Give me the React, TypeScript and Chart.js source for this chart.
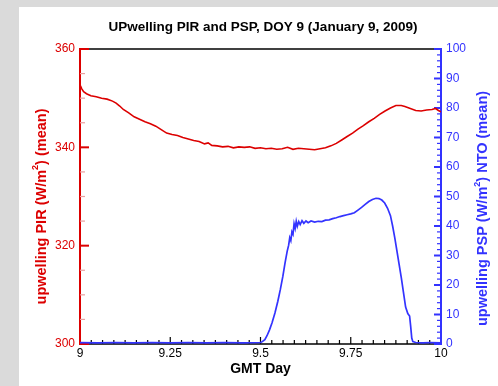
import React, { useEffect, useRef } from "react";
import { Chart, registerables } from "chart.js";

Chart.register(...registerables);

const TITLE = "UPwelling PIR and PSP, DOY 9 (January 9, 2009)";
const X_TITLE = "GMT Day";
const LEFT_TITLE = ["upwelling PIR (W/m", "2", ") (mean)"];
const RIGHT_TITLE = ["upwelling PSP (W/m", "2", ") NTO (mean)"];

const X_TICKS = [9, 9.25, 9.5, 9.75, 10];
const PIR_TICKS = [300, 320, 340, 360];
const PSP_TICKS = [0, 10, 20, 30, 40, 50, 60, 70, 80, 90, 100];

const pirDays = [
  9.0, 9.005, 9.01, 9.018, 9.03, 9.045, 9.06, 9.075, 9.09, 9.1, 9.11, 9.12, 9.135,
  9.15, 9.165, 9.18, 9.195, 9.21, 9.225, 9.24, 9.255, 9.27, 9.285, 9.3, 9.315, 9.33,
  9.345, 9.355, 9.365, 9.38, 9.395, 9.41, 9.425, 9.44, 9.455, 9.47, 9.485, 9.5,
  9.515, 9.53, 9.545, 9.56, 9.575, 9.59, 9.605, 9.62, 9.635, 9.65, 9.665, 9.68,
  9.695, 9.71, 9.725, 9.74, 9.755, 9.77, 9.785, 9.8, 9.815, 9.83, 9.845, 9.86,
  9.875, 9.89, 9.9, 9.915, 9.93, 9.945, 9.96, 9.975, 9.985, 9.993, 10.0,
];
const pirValues = [
  352.7, 351.9, 351.3, 350.9, 350.5, 350.3, 350.0, 349.8, 349.4, 349.0, 348.4, 347.7,
  347.0, 346.2, 345.7, 345.2, 344.8, 344.3, 343.6, 342.9, 342.6, 342.4, 342.0, 341.7,
  341.4, 341.2, 340.7, 340.9, 340.4, 340.3, 340.1, 340.2, 339.9, 340.1, 340.0, 340.1,
  339.8, 339.9, 339.7, 339.8, 339.6, 339.7, 340.0, 339.6, 339.8, 339.7, 339.6, 339.5,
  339.7, 339.9, 340.3, 340.8, 341.5, 342.2, 342.9, 343.7, 344.4, 345.2, 345.9, 346.7,
  347.4, 348.0, 348.5, 348.5, 348.3, 347.9, 347.5, 347.4, 347.6, 347.7, 347.9, 347.5,
  347.2,
];

const pspDays = [
  9.0, 9.05, 9.1, 9.15, 9.2, 9.25, 9.3, 9.35, 9.4, 9.45, 9.5, 9.505, 9.512, 9.518,
  9.525, 9.532, 9.54, 9.548, 9.555, 9.562, 9.568, 9.574, 9.578, 9.581, 9.584, 9.587,
  9.59, 9.593, 9.596, 9.599, 9.602, 9.606, 9.61, 9.615, 9.62, 9.626, 9.632, 9.64,
  9.65, 9.66, 9.67, 9.68, 9.69, 9.7, 9.71, 9.72, 9.73, 9.74, 9.75, 9.76, 9.77, 9.78,
  9.79, 9.8, 9.81, 9.82, 9.828, 9.836, 9.844, 9.852, 9.86, 9.866, 9.872, 9.878,
  9.884, 9.89, 9.896, 9.902, 9.908, 9.913, 9.916, 9.919, 9.922, 9.93, 9.95, 9.97, 10.0,
];
const pspValues = [
  0.5, 0.4, 0.5, 0.4, 0.5, 0.4, 0.5, 0.4, 0.5, 0.4, 0.5, 0.8, 1.5, 2.8, 4.8, 7.2,
  10.5, 14.5, 18.5, 23.0, 27.5, 31.5, 33.5, 36.0, 35.0, 38.0, 37.2, 40.8, 39.2, 41.6,
  39.9, 41.5, 40.5, 41.8, 40.9, 41.7, 41.1, 41.7, 41.3, 41.6, 41.5, 42.0, 42.1, 42.5,
  42.8, 43.2, 43.5, 43.8, 44.1, 44.5, 45.4, 46.3, 47.3, 48.3, 49.0, 49.4, 49.3, 48.8,
  47.8, 46.0, 43.5, 40.0, 36.0, 31.5, 27.0, 22.5, 17.5, 12.5, 10.3, 9.5, 6.0, 2.0, 0.8,
  0.5, 0.4, 0.5, 0.4,
];

const RED = "#dc0000";
const BLUE = "#3333ff";
const FONT = "'Liberation Sans', Arial, Helvetica, sans-serif";

function drawRotatedSup(ctx: CanvasRenderingContext2D, parts: string[], cx: number, cy: number, size: number, color: string) {
  ctx.save();
  ctx.translate(cx, cy);
  ctx.rotate(-Math.PI / 2);
  ctx.fillStyle = color;
  ctx.textBaseline = "middle";
  ctx.textAlign = "left";
  const main = `bold ${size}px ${FONT}`;
  const sup = `bold ${Math.round(size * 0.62)}px ${FONT}`;
  ctx.font = main;
  const w0 = ctx.measureText(parts[0]).width;
  const w2 = ctx.measureText(parts[2]).width;
  ctx.font = sup;
  const w1 = ctx.measureText(parts[1]).width;
  let x = -(w0 + w1 + w2) / 2;
  ctx.font = main;
  ctx.fillText(parts[0], x, 0);
  x += w0;
  ctx.font = sup;
  ctx.fillText(parts[1], x, -size * 0.38);
  x += w1;
  ctx.font = main;
  ctx.fillText(parts[2], x, 0);
  ctx.restore();
}

const framePlugin = {
  id: "frame",
  beforeDraw(chart: any) {
    const ctx = chart.ctx;
    ctx.save();
    ctx.fillStyle = "#dadada";
    ctx.fillRect(0, 0, chart.width, chart.height);
    ctx.fillStyle = "#ffffff";
    ctx.fillRect(19, 7, chart.width - 19, chart.height - 7);
    ctx.restore();
  },
  beforeDatasetsDraw(chart: any) {
    const ctx = chart.ctx;
    const { left, right, top, bottom } = chart.chartArea;
    const xs = chart.scales.x;
    const yl = chart.scales.y;
    const yr = chart.scales.y1;
    ctx.save();
    ctx.strokeStyle = "#000";
    ctx.lineWidth = 1.5;
    ctx.beginPath();
    ctx.moveTo(left, top);
    ctx.lineTo(right, top);
    ctx.stroke();
    ctx.beginPath();
    ctx.moveTo(left, bottom);
    ctx.lineTo(right, bottom);
    ctx.stroke();
    ctx.lineWidth = 1.2;
    for (let i = 0; i <= 32; i++) {
      const v = 9 + i / 32;
      const px = xs.getPixelForValue(v);
      const major = i % 8 === 0;
      ctx.beginPath();
      ctx.moveTo(px, bottom);
      ctx.lineTo(px, bottom - (major ? 7 : 4));
      ctx.stroke();
    }
    ctx.strokeStyle = RED;
    ctx.lineWidth = 2;
    ctx.beginPath();
    ctx.moveTo(left, top - 1);
    ctx.lineTo(left, bottom + 1);
    ctx.stroke();
    for (let v = 300; v <= 360; v += 5) {
      const py = yl.getPixelForValue(v);
      const major = v % 20 === 0;
      ctx.strokeStyle = major ? RED : "#eaa0a0";
      ctx.lineWidth = major ? 2 : 1.2;
      ctx.beginPath();
      ctx.moveTo(left, py);
      ctx.lineTo(left + (major ? 9 : 5), py);
      ctx.stroke();
    }
    ctx.strokeStyle = BLUE;
    ctx.lineWidth = 2;
    ctx.beginPath();
    ctx.moveTo(right, top - 1);
    ctx.lineTo(right, bottom + 1);
    ctx.stroke();
    for (let v = 0; v <= 100; v += 2) {
      const py = yr.getPixelForValue(v);
      const major = v % 10 === 0;
      ctx.lineWidth = major ? 2 : 1.2;
      ctx.beginPath();
      ctx.moveTo(right, py);
      ctx.lineTo(right - (major ? 7 : 4), py);
      ctx.stroke();
    }
    ctx.restore();
  },
  afterDraw(chart: any) {
    const ctx = chart.ctx;
    const { left, right, top, bottom } = chart.chartArea;
    ctx.save();
    ctx.fillStyle = "#000";
    ctx.textAlign = "center";
    ctx.textBaseline = "middle";
    ctx.font = `bold 13.5px ${FONT}`;
    ctx.fillText(TITLE, 263, 27);
    ctx.font = `bold 14px ${FONT}`;
    ctx.fillText(X_TITLE, (left + right) / 2, 369);
    ctx.restore();
    const mid = (top + bottom) / 2;
    drawRotatedSup(ctx, LEFT_TITLE, 41.5, mid + 10, 14.5, RED);
    drawRotatedSup(ctx, RIGHT_TITLE, 483, mid + 12, 14.5, BLUE);
  },
};

function fmt(v: number) {
  return String(Number(Number(v).toFixed(2)));
}

const gridOff = { display: false, drawTicks: false, tickLength: 0 };

export default function App() {
  const ref = useRef<HTMLCanvasElement | null>(null);
  useEffect(() => {
    if (!ref.current) return;
    const chart = new Chart(ref.current, {
      type: "line",
      data: {
        datasets: [
          {
            label: "PIR",
            data: pirDays.map((d, i) => ({ x: d, y: pirValues[i] })),
            borderColor: RED,
            borderWidth: 1.6,
            pointRadius: 0,
            tension: 0,
            yAxisID: "y",
          },
          {
            label: "PSP",
            data: pspDays.map((d, i) => ({ x: d, y: pspValues[i] })),
            borderColor: BLUE,
            borderWidth: 1.7,
            pointRadius: 0,
            tension: 0,
            yAxisID: "y1",
          },
        ],
      },
      options: {
        animation: false,
        responsive: false,
        layout: { padding: { top: 49, left: 0, right: 0, bottom: 0 } },
        plugins: { legend: { display: false }, title: { display: false }, tooltip: { enabled: false } },
        scales: {
          x: {
            type: "linear",
            min: 9,
            max: 10,
            afterBuildTicks: (s: any) => {
              s.ticks = X_TICKS.map((v) => ({ value: v }));
            },
            afterFit: (s: any) => {
              s.height = 42;
            },
            grid: gridOff,
            border: { display: false },
            ticks: {
              autoSkip: false,
              maxRotation: 0,
              padding: 2,
              color: "#000",
              font: { family: FONT, size: 12 },
              callback: (v: any) => fmt(v),
            },
          },
          y: {
            type: "linear",
            position: "left",
            min: 300,
            max: 360,
            afterBuildTicks: (s: any) => {
              s.ticks = PIR_TICKS.map((v) => ({ value: v }));
            },
            afterFit: (s: any) => {
              s.width = 80;
            },
            grid: gridOff,
            border: { display: false },
            ticks: {
              autoSkip: false,
              padding: 5,
              color: RED,
              font: { family: FONT, size: 12 },
              callback: (v: any) => fmt(v),
            },
          },
          y1: {
            type: "linear",
            position: "right",
            min: 0,
            max: 100,
            afterBuildTicks: (s: any) => {
              s.ticks = PSP_TICKS.map((v) => ({ value: v }));
            },
            afterFit: (s: any) => {
              s.width = 57;
            },
            grid: gridOff,
            border: { display: false },
            ticks: {
              autoSkip: false,
              padding: 5,
              color: BLUE,
              font: { family: FONT, size: 12 },
              callback: (v: any) => fmt(v),
            },
          },
        },
      } as any,
      plugins: [framePlugin],
    });
    return () => chart.destroy();
  }, []);
  return (
    <div style={{ position: "absolute", left: 0, top: 0, width: 498, height: 386 }}>
      <canvas ref={ref} width={498} height={386} style={{ display: "block" }} />
    </div>
  );
}
